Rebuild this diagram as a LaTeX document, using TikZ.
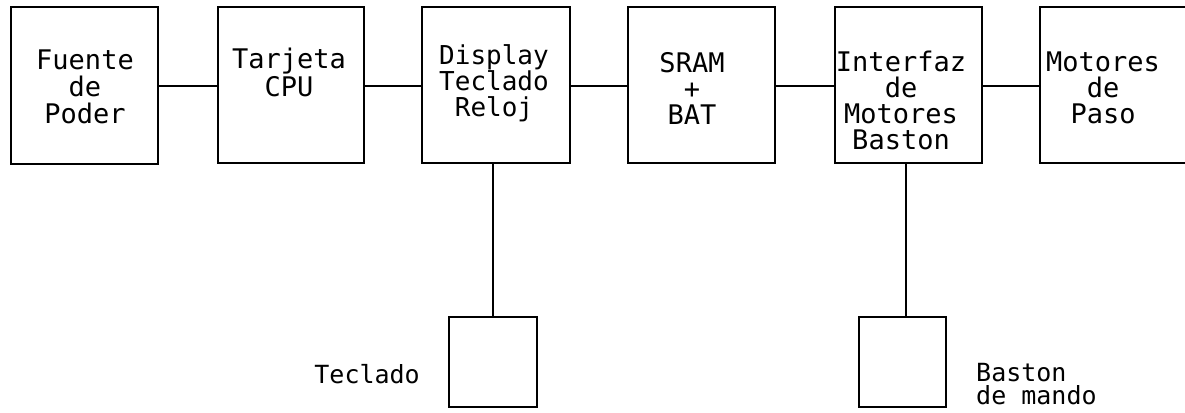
\documentclass[tikz,border=0pt]{standalone}
\usepackage{fontspec}
\newfontfamily\plotfont{DejaVu Sans Mono}
\begin{document}
\begin{tikzpicture}[x=1pt,y=-1pt,
  blk/.style={draw=black, line width=1.8pt, inner sep=0pt},
  lbl/.style={font=\plotfont\fontsize{27}{26}\selectfont, align=center, inner sep=0pt},
  sidelbl/.style={font=\plotfont\fontsize{25}{23}\selectfont, align=left, inner sep=0pt},
  wire/.style={line width=1.8pt},
  vwire/.style={line width=1.1pt}]
\useasboundingbox (0,0) rectangle (1185,412);
\clip (0,0) rectangle (1185,412);
% boxes
\node[blk, minimum width=147pt, minimum height=157pt] (b1) at (84.5,85.5) {};
\node[blk, minimum width=146pt, minimum height=156pt] (b2) at (291,85) {};
\node[blk, minimum width=148pt, minimum height=156pt] (b3) at (496,85) {};
\node[blk, minimum width=147pt, minimum height=156pt] (b4) at (701.5,85) {};
\node[blk, minimum width=147pt, minimum height=156pt] (b5) at (908.5,85) {};
\node[blk, minimum width=150pt, minimum height=156pt] (b6) at (1115,85) {};
\node[blk, minimum width=88pt, minimum height=90pt] (k) at (493,362) {};
\node[blk, minimum width=87pt, minimum height=90pt] (j) at (902.5,362) {};
% texts
\node[lbl, font=\plotfont\fontsize{27}{27}\selectfont] (t1) at (85,87) {Fuente\\de\\Poder};
\node[lbl, font=\plotfont\fontsize{27}{28}\selectfont] (t2) at (289,72) {Tarjeta\\CPU};
\node[lbl, font=\plotfont\fontsize{26}{26}\selectfont] (t3) at (494,83) {Display\\Teclado\\Reloj};
\node[lbl] (t4) at (692,88) {SRAM\\+\\BAT};
\node[lbl] (t5) at (901,100) {Interfaz\\de\\Motores\\Baston};
\node[lbl] (t6) at (1103,88) {Motores\\de\\Paso};
\node[sidelbl, anchor=east] (tk) at (420,374) {Teclado};
\node[sidelbl, anchor=west] (tj) at (976,384) {Baston\\de mando};
% connectors
\draw[wire] (b1.east |- 0,86) -- (b2.west |- 0,86);
\draw[wire] (b2.east |- 0,86) -- (b3.west |- 0,86);
\draw[wire] (b3.east |- 0,86) -- (b4.west |- 0,86);
\draw[wire] (b4.east |- 0,86) -- (b5.west |- 0,86);
\draw[wire] (b5.east |- 0,86) -- (b6.west |- 0,86);
\draw[vwire] (b3.south -| k.north) -- (k.north);
\draw[vwire] (b5.south -| 906,0) -- (906,317);
\end{tikzpicture}
\end{document}
